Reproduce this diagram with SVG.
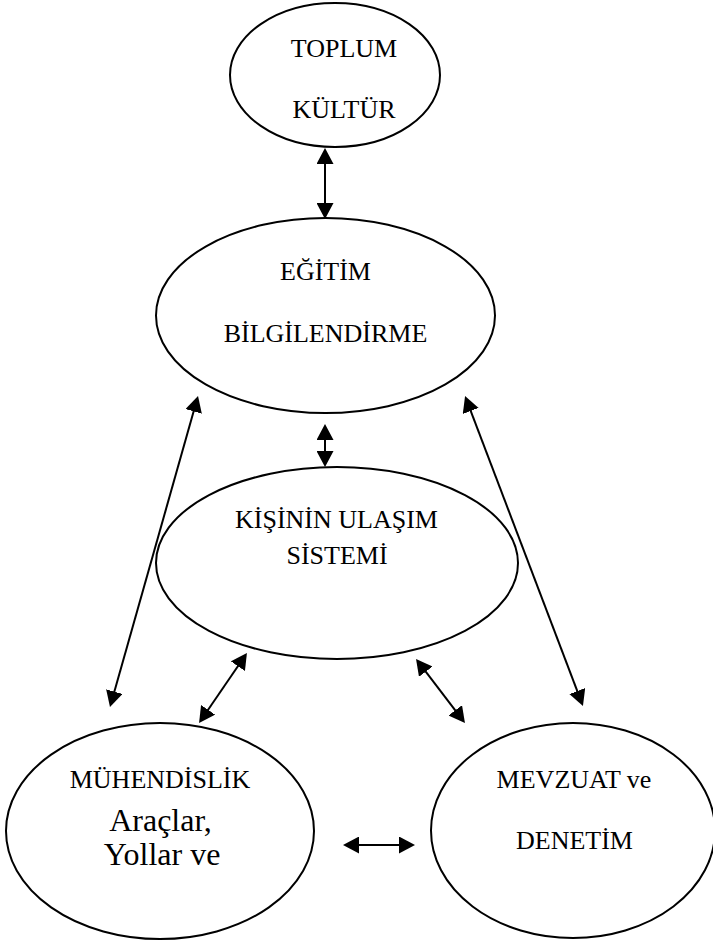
<svg xmlns="http://www.w3.org/2000/svg" width="713" height="942" viewBox="0 0 713 942">
<style>
.node ellipse{fill:#fff;stroke:#000;stroke-width:2}
.lbl{font-family:"Liberation Serif","Times New Roman",serif;font-size:26px;fill:#000;text-anchor:middle}
.big{font-size:32px}
.conn line{stroke:#000;stroke-width:2;marker-start:url(#ah);marker-end:url(#ah)}
</style>
<defs>
<marker id="ah" viewBox="0 0 16 17" refX="6" refY="8.5" markerWidth="16" markerHeight="17" markerUnits="userSpaceOnUse" orient="auto-start-reverse">
<path d="M0,0 L16,8.5 L0,17 z" fill="#000"/>
</marker>
</defs>
<rect width="713" height="942" fill="#fff"/>
<g id="toplum" class="node">
<ellipse cx="335" cy="75" rx="105" ry="72"/>
<text class="lbl" x="344" y="57">TOPLUM</text>
<text class="lbl" x="344" y="118">KÜLTÜR</text>
</g>
<g id="egitim" class="node">
<ellipse cx="325.5" cy="315.5" rx="169.5" ry="97.5"/>
<text class="lbl" x="325.5" y="280">EĞİTİM</text>
<text class="lbl" x="325.5" y="342">BİLGİLENDİRME</text>
</g>
<g id="kisinin" class="node">
<ellipse cx="337" cy="563" rx="181" ry="96"/>
<text class="lbl" x="336.5" y="528">KİŞİNİN ULAŞIM</text>
<text class="lbl" x="337" y="564">SİSTEMİ</text>
</g>
<g id="muhendislik" class="node">
<ellipse cx="160" cy="831" rx="154" ry="108"/>
<text class="lbl" x="160" y="788">MÜHENDİSLİK</text>
<text class="lbl big" x="160.5" y="831">Araçlar,</text>
<text class="lbl big" x="162" y="865">Yollar ve</text>
</g>
<g id="mevzuat" class="node">
<ellipse cx="573" cy="830.5" rx="142" ry="107.5"/>
<text class="lbl" x="574" y="788">MEVZUAT ve</text>
<text class="lbl" x="574.5" y="849">DENETİM</text>
</g>
<g id="connectors" class="conn">
<line x1="325" y1="158" x2="325" y2="209"/>
<line x1="325" y1="434" x2="325" y2="457"/>
<line x1="195.3" y1="405.6" x2="112.7" y2="697.4"/>
<line x1="468.6" y1="405.3" x2="579.4" y2="696.7"/>
<line x1="241.3" y1="661.2" x2="204.7" y2="714.8"/>
<line x1="422.1" y1="666.9" x2="458.9" y2="715.1"/>
<line x1="353" y1="845" x2="405" y2="845"/>
</g>
</svg>
